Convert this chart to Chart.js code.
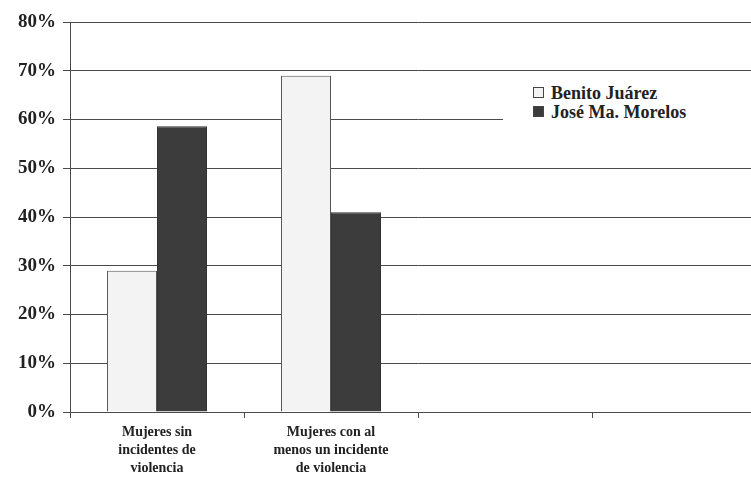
<!DOCTYPE html>
<html>
<head>
<meta charset="utf-8">
<script src="https://cdn.jsdelivr.net/npm/chart.js@4.4.1/dist/chart.umd.min.js"></script>
<style>
    html, body { margin: 0; padding: 0; background: #fff; overflow: hidden; }
    /* the original plot runs past the right edge of the picture, so the canvas is cropped */
    #wrap { position: relative; width: 751px; height: 489px; overflow: hidden; }
    #legend {
        position: absolute; left: 503px; top: 81px; width: 248px; height: 44px;
        background: #fff; box-sizing: border-box; padding: 3px 0 0 30px;
        font-family: 'Liberation Serif', 'DejaVu Serif', serif; font-weight: bold;
        font-size: 18px; line-height: 19px; color: #222; white-space: nowrap;
    }
    #legend .sw { display: inline-block; width: 9px; height: 9px; margin-right: 7px; border: 1px solid #444; vertical-align: 1px; }
</style>
</head>
<body>
<div id="wrap">
    <canvas id="chart" width="766" height="489"></canvas>
    <div id="legend"></div>
</div>
<script>
// categories (last two are empty slots in the original chart)
const categories = [
    ['Mujeres sin', 'incidentes de', 'violencia'],
    ['Mujeres con al', 'menos un incidente', 'de violencia'],
    '',
    ''
];
const seriesNames = ['Benito Juárez', 'José Ma. Morelos'];
const benitoJuarez = [29, 69, null, null];
const joseMaMorelos = [58.6, 41, null, null];
const yTicks = [0, 10, 20, 30, 40, 50, 60, 70, 80];

const serif = "'Liberation Serif', 'DejaVu Serif', serif";
const ink = '#222';

const ctx = document.getElementById('chart').getContext('2d');
const chart = new Chart(ctx, {
    type: 'bar',
    data: {
        labels: categories,
        datasets: [{
            label: seriesNames[0],
            data: benitoJuarez,
            backgroundColor: '#f3f3f3',
            borderColor: '#555',
            borderWidth: 1,
            categoryPercentage: 0.575,
            barPercentage: 1.0
        }, {
            label: seriesNames[1],
            data: joseMaMorelos,
            backgroundColor: '#3c3c3c',
            borderColor: '#333',
            borderWidth: 1,
            categoryPercentage: 0.575,
            barPercentage: 1.0
        }]
    },
    options: {
        responsive: false,
        animation: false,
        layout: { padding: { top: 22, right: 0, bottom: 0, left: 0 } },
        plugins: {
            legend: { display: false },
            tooltip: { enabled: false }
        },
        scales: {
            y: {
                min: 0,
                max: 80,
                afterBuildTicks: (scale) => { scale.ticks = yTicks.map(v => ({ value: v })); },
                afterFit: (scale) => { scale.width = 70; },
                ticks: {
                    callback: v => v + '%',
                    color: ink,
                    padding: 7,
                    font: { family: serif, size: 19, weight: 'bold' }
                },
                grid: { color: '#4a4a4a', lineWidth: 1, tickLength: 7 },
                border: { color: '#4a4a4a', width: 1 }
            },
            x: {
                afterFit: (scale) => { scale.height = 77; },
                ticks: {
                    color: ink,
                    padding: 5,
                    maxRotation: 0,
                    autoSkip: false,
                    font: { family: serif, size: 14, weight: 'bold', lineHeight: 1.3 }
                },
                grid: { display: true, drawOnChartArea: false, offset: true, tickLength: 6, color: '#4a4a4a' },
                border: { color: '#4a4a4a', width: 1 }
            }
        }
    }
});

// legend built from the datasets
const legendDiv = document.getElementById('legend');
legendDiv.innerHTML = chart.data.datasets.map(ds =>
    `<div><span class="sw" style="background:${ds.backgroundColor}"></span>${ds.label}</div>`
).join('');
</script>
</body>
</html>
